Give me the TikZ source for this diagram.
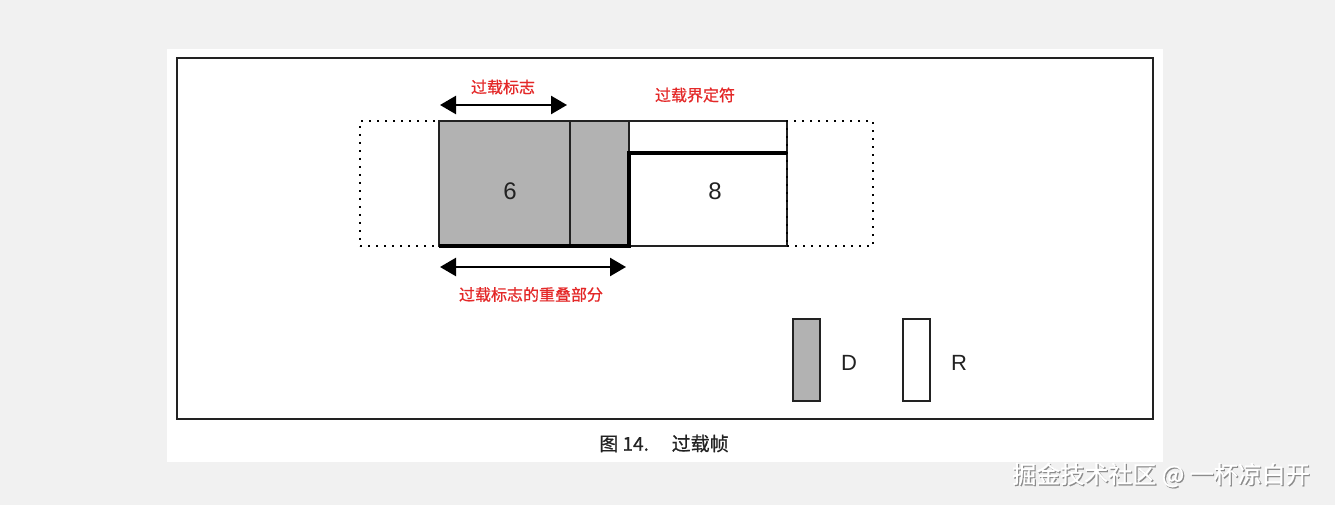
\documentclass[tikz,border=0pt]{standalone}
\usepackage{fontspec}
\setmainfont{Liberation Sans}
\newfontfamily\cjk{Noto Sans CJK SC}
\newfontfamily\cjkheavy[FakeBold=0.7]{Noto Sans CJK SC}
\usetikzlibrary{positioning}
\usetikzlibrary{arrows.meta}
\definecolor{boxgray}{RGB}{178,178,178}
\definecolor{labelred}{RGB}{228,40,40}
\definecolor{pagegray}{RGB}{241,241,241}
\definecolor{inkgray}{RGB}{34,34,34}

\begin{document}
\begin{tikzpicture}[x=1pt,y=-1pt]
\tikzstyle{FieldStyle}=[shape=rectangle, draw=inkgray, line width=1.5pt, inner sep=0pt, outer sep=0pt, minimum height=125pt]
\tikzstyle{grayField}=[FieldStyle, fill=boxgray]
\tikzstyle{whiteField}=[FieldStyle, fill=white]
\tikzstyle{dottedField}=[shape=rectangle, draw=black, line width=1.7pt, dash pattern=on 1.7pt off 6.3pt, inner sep=0pt, outer sep=0pt, minimum height=125pt]
\tikzstyle{legendField}=[FieldStyle, minimum width=27pt, minimum height=82pt]
\tikzstyle{redLabel}=[text=labelred, font=\cjkheavy\fontsize{16}{16}\selectfont, inner sep=0pt]
\tikzstyle{digitLabel}=[text=inkgray, font=\fontsize{24}{24}\selectfont, inner sep=0pt]
\tikzstyle{legendLabel}=[text=inkgray, font=\fontsize{22}{22}\selectfont, inner sep=0pt]
\tikzstyle{spanArrow}=[{Triangle[length=16pt,width=18pt]}-{Triangle[length=16pt,width=18pt]}, line width=2.5pt]
\tikzstyle{borderLine}=[line width=4pt, draw=black]
\tikzstyle{markStyle}=[font=\cjkheavy\fontsize{24}{24}\selectfont, inner sep=0pt]

% page and frame
\fill[pagegray] (0,0) rectangle (1335,505);
\fill[white] (167,49) rectangle (1163,462);
\draw[line width=1.6pt, inkgray] (177,58) rectangle (1153,419);

% frame fields
\node[dottedField, minimum width=79pt] (padL) at (399.5,183.5) {};
\node[grayField, minimum width=131pt] (flag) at (504.5,183.5) {};
\node[grayField, minimum width=59pt] (flagEnd) at (599.5,183.5) {};
\node[whiteField, minimum width=158pt] (delim) at (708,183.5) {};
\node[dottedField, minimum width=86pt] (padR) at (830,183.5) {};
\node[digitLabel] (flagNum) at (510,191) {6};
\node[digitLabel] (delimNum) at (715,191) {8};

% bold outline
\coordinate (knee) at (629,153);
\coordinate (delimTop) at (delim.east |- knee);
\draw[borderLine] (flag.south west) -- (flagEnd.south east) -- (knee) -- (delimTop);

% spans
\coordinate (flagL) at (440,105);
\coordinate (flagR) at (567,105);
\coordinate (ovlL) at (440,267);
\coordinate (ovlR) at (626,267);
\draw[spanArrow] (flagL) -- (flagR);
\draw[spanArrow] (ovlL) -- (ovlR);
\node[redLabel] (flagText) at (503,87) {过载标志};
\node[redLabel] (delimText) at (695,95) {过载界定符};
\node[redLabel] (ovlText) at (531,294.5) {过载标志的重叠部分};

% legend
\node[legendField, fill=boxgray] (keyD) at (806.5,360) {};
\node[legendField, fill=white] (keyR) at (916.5,360) {};
\node[legendLabel] (keyDText) at (849,363) {D};
\node[legendLabel] (keyRText) at (959,363) {R};

% caption
\node[text=inkgray, font=\cjkheavy\fontsize{19}{19}\selectfont, inner sep=0pt] (caption) at (664,443.5) {图 14.\hspace{1.2em}过载帧};

% watermark
\node[markStyle, text=black!45] (markShade) at (1162.2,476.2) {掘金技术社区 @ 一杯凉白开};
\node[markStyle, text=white] (mark) at (1161,475) {掘金技术社区 @ 一杯凉白开};
\end{tikzpicture}
\end{document}
